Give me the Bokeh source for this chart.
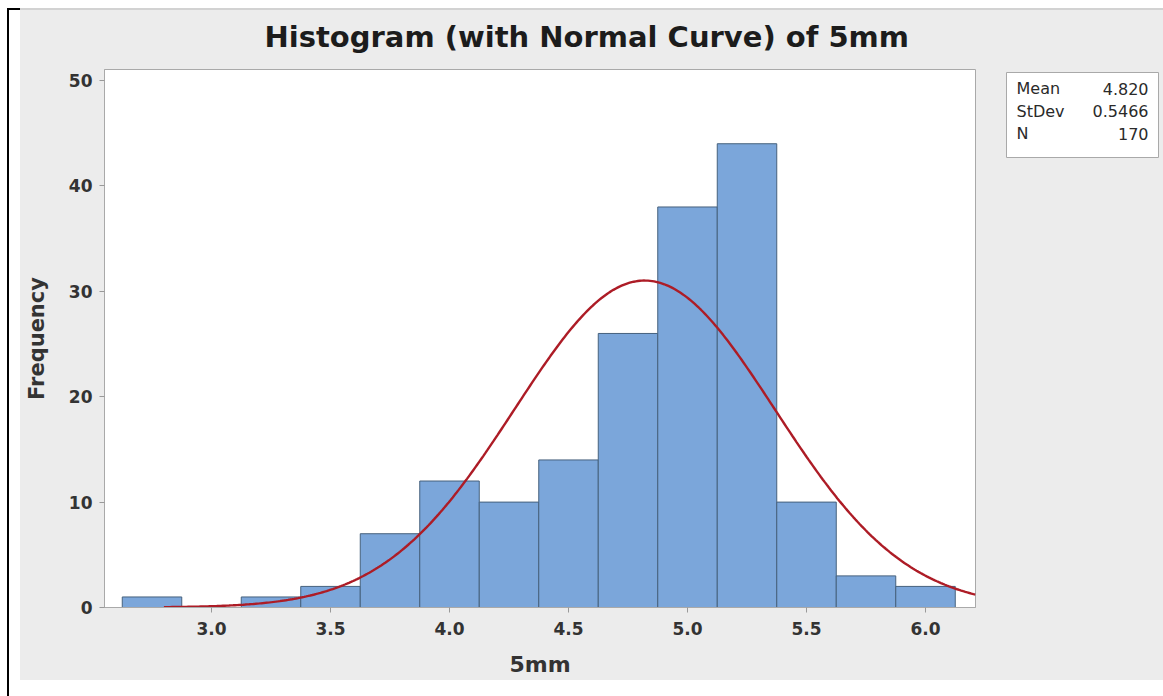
import numpy as np
from bokeh.plotting import figure
from bokeh.layouts import row
from bokeh.models import Range1d, FixedTicker, NumeralTickFormatter
from bokeh.core.properties import value
from bokeh.embed import file_html
from bokeh.resources import INLINE

# ---- data ----
bin_left = [2.625, 2.875, 3.125, 3.375, 3.625, 3.875, 4.125, 4.375, 4.625, 4.875, 5.125, 5.375, 5.625, 5.875]
bin_right = [2.875, 3.125, 3.375, 3.625, 3.875, 4.125, 4.375, 4.625, 4.875, 5.125, 5.375, 5.625, 5.875, 6.125]
counts = [1, 0, 1, 2, 7, 12, 10, 14, 26, 38, 44, 10, 3, 2]
x_ticks = [3.0, 3.5, 4.0, 4.5, 5.0, 5.5, 6.0]
y_ticks = [0, 10, 20, 30, 40, 50]
stat_names = ["Mean", "StDev", "N"]
stat_values = ["4.820", "0.5466", "170"]
mean = 4.820
stdev = 0.5466
n_obs = 170
bin_width = 0.25
curve_start = 2.80

# ---- geometry (window pixels) ----
W, H = 1163, 696
W1 = 995                         # width of the main chart figure
FRAME_L, FRAME_R, FRAME_T, FRAME_B = 104, 975, 69, 607
X0_PX, X_SCALE = 211, 238.0      # pixel of x=3.0, px per unit
Y_SCALE = 10.54                  # px per unit
x_start = 3.0 - (X0_PX - FRAME_L) / X_SCALE
x_end = 3.0 + (FRAME_R - X0_PX) / X_SCALE
y_end = (FRAME_B - FRAME_T) / Y_SCALE

FONT = "DejaVu Sans"
PANEL = "#ececec"

bg_main = ("linear-gradient(#000,#000) 7px 8px/2px 100% no-repeat, "
           "linear-gradient(#000,#000) 7px 8px/13px 2px no-repeat, "
           "linear-gradient(#d2d2d2,#d2d2d2) 20px 8px/100% 2px no-repeat, "
           f"linear-gradient({PANEL},{PANEL}) 20px 10px/100% 670px no-repeat, #ffffff")
bg_side = ("linear-gradient(#d2d2d2,#d2d2d2) 0 8px/100% 2px no-repeat, "
           f"linear-gradient({PANEL},{PANEL}) 0 10px/100% 670px no-repeat, #ffffff")

p = figure(width=W1, height=H, output_backend="svg", toolbar_location=None,
           x_range=Range1d(x_start, x_end), y_range=Range1d(0, y_end),
           min_border_left=FRAME_L, min_border_right=W1 - FRAME_R,
           min_border_top=FRAME_T, min_border_bottom=H - FRAME_B,
           styles={"background": bg_main})
p.border_fill_color = None
p.background_fill_color = "white"
p.outline_line_color = "#a9a9a9"
p.xgrid.visible = False
p.ygrid.visible = False

p.title.text = "Histogram (with Normal Curve) of 5mm"
p.title.align = "left"
p.title.offset = 264 - FRAME_L
p.title.standoff = 31
p.title.text_font = FONT
p.title.text_font_style = "bold"
p.title.text_font_size = "29px"
p.title.text_color = "#1c1c1c"

p.quad(left=bin_left, right=bin_right, bottom=0, top=counts,
       fill_color="#7ba6da", line_color="#46617d", line_width=1)

xs = np.linspace(curve_start, x_end, 400)
ys = n_obs * bin_width / (stdev * np.sqrt(2 * np.pi)) * np.exp(-0.5 * ((xs - mean) / stdev) ** 2)
p.line(xs, ys, line_color="#ad1c26", line_width=2.4)

for ax in (p.xaxis[0], p.yaxis[0]):
    ax.major_label_text_font = FONT
    ax.major_label_text_font_style = "bold"
    ax.major_label_text_font_size = "17px"
    ax.major_label_text_color = "#333333"
    ax.major_tick_in = 0
    ax.major_tick_out = 5
    ax.minor_tick_line_color = None
    ax.major_tick_line_color = "#999999"
    ax.axis_line_color = "#a9a9a9"
    ax.axis_label_text_font = FONT
    ax.axis_label_text_font_style = "bold"
    ax.axis_label_text_color = "#333333"

p.xaxis.ticker = FixedTicker(ticks=x_ticks)
p.xaxis.formatter = NumeralTickFormatter(format="0.0")
p.xaxis.major_label_standoff = 9
p.xaxis.axis_label = "5mm"
p.xaxis.axis_label_text_font_size = "22px"
p.xaxis.axis_label_standoff = 14
p.yaxis.ticker = FixedTicker(ticks=y_ticks)
p.yaxis.major_label_standoff = 7
p.yaxis.axis_label = "Frequency"
p.yaxis.axis_label_text_font_size = "21px"
p.yaxis.axis_label_standoff = 17

# ---- statistics box (side figure; its frame is aligned with the main frame) ----
BOX_L, BOX_R, BOX_T, BOX_B = 1006, 1158, 72, 157
TEXT_L, TEXT_R, LINE0, LINE_STEP = 1016, 1148, 88, 22.5

s = figure(width=W - W1, height=H, output_backend="svg", toolbar_location=None,
           x_range=Range1d(W1, W), y_range=Range1d(FRAME_B, FRAME_T),
           x_axis_location=None, y_axis_location=None,
           min_border=0, min_border_left=0, min_border_right=0,
           min_border_top=FRAME_T, min_border_bottom=H - FRAME_B,
           styles={"background": bg_side})
s.border_fill_color = None
s.background_fill_color = None
s.outline_line_color = None
s.xgrid.visible = False
s.ygrid.visible = False

s.quad(left=[BOX_L], right=[BOX_R], top=[BOX_T], bottom=[BOX_B],
       fill_color="white", line_color="#a9a9a9", line_width=1)
line_y = [LINE0 + i * LINE_STEP for i in range(len(stat_names))]
s.text(x=[TEXT_L] * len(stat_names), y=line_y, text=stat_names,
       text_align="left", text_baseline="middle",
       text_font=value(FONT), text_font_size="16px", text_color="#2a2a2a")
s.text(x=[TEXT_R] * len(stat_values), y=line_y, text=stat_values,
       text_align="right", text_baseline="middle",
       text_font=value(FONT), text_font_size="16px", text_color="#2a2a2a")

layout = row(p, s, spacing=0)
open("out.html", "w").write(file_html(layout, INLINE))
